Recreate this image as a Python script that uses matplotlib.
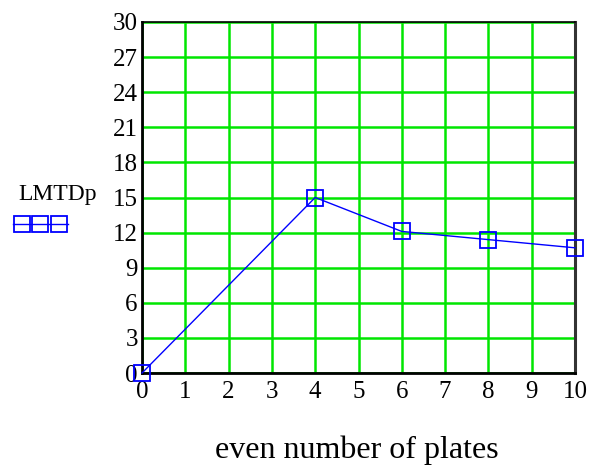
import matplotlib
matplotlib.use("Agg")
import matplotlib.pyplot as plt
from matplotlib.lines import Line2D

# data
plates = [0, 4, 6, 8, 10]
lmtd = [0.0, 15.0, 12.1, 11.4, 10.7]
x_ticks = list(range(0, 11))
y_ticks = list(range(0, 31, 3))

plt.rcParams["font.family"] = ["Liberation Serif", "DejaVu Serif"]

W, H = 592, 468
fig = plt.figure(figsize=(W / 100, H / 100), dpi=100)
ax = fig.add_axes([142 / W, 1 - 373 / H, (575 - 142) / W, (373 - 22) / H])

ax.plot(plates, lmtd, color="#0000ff", lw=1.0, marker="s", markersize=11,
        markerfacecolor="none", markeredgecolor="#0000ff", markeredgewidth=1.3,
        clip_on=False, zorder=3)

ax.set_xlim(0, 10)
ax.set_ylim(0, 30)
ax.set_xticks(x_ticks)
ax.set_yticks(y_ticks)
ax.grid(True, color="#00e600", lw=1.8)
ax.set_axisbelow(True)
ax.tick_params(length=0, labelsize=18)
ax.tick_params(axis="y", pad=3)
ax.tick_params(axis="x", pad=6)

for side in ["left", "bottom"]:
    ax.spines[side].set_linewidth(2.0)
    ax.spines[side].set_color("black")
ax.spines["top"].set_linewidth(1.2)
ax.spines["right"].set_linewidth(2.2)
ax.spines["right"].set_color("#333333")

# x label sits well below the tick labels
fig.text(357 / W, 1 - 458 / H, "even number of plates", fontsize=23,
         ha="center", va="baseline")

# Mathcad-style y label with a legend swatch underneath
fig.text(97 / W, 1 - 194 / H, "LMTDp", fontsize=17, ha="right", va="center")
fig.add_artist(Line2D([13 / W, 68 / W], [1 - 224 / H] * 2, transform=fig.transFigure,
                      color="#0000ff", lw=1.0))
for xm in [22, 40, 59]:
    fig.add_artist(Line2D([xm / W], [1 - 224 / H], transform=fig.transFigure,
                          marker="s", markersize=11, color="#0000ff",
                          markerfacecolor="none", markeredgewidth=1.3, lw=0))

fig.savefig("out.png", dpi=100)
